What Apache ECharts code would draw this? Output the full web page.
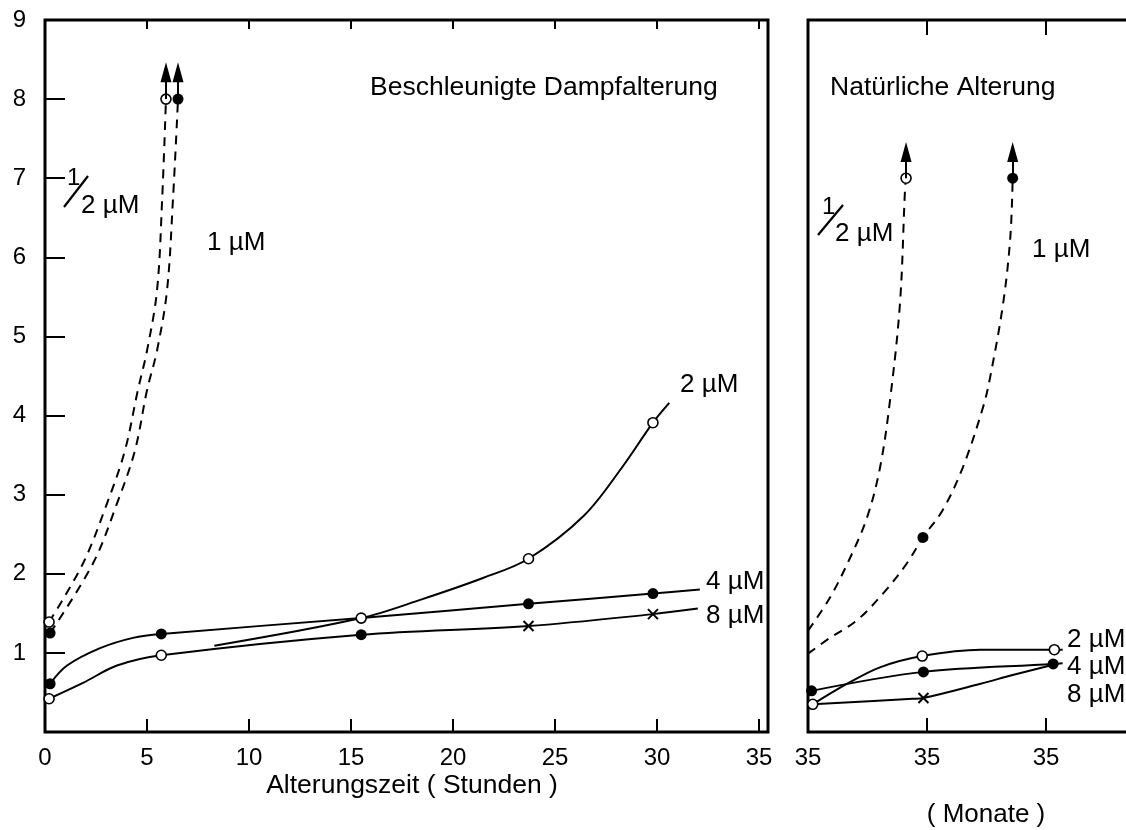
<!DOCTYPE html>
<html><head><meta charset="utf-8">
<script src="https://cdn.jsdelivr.net/npm/echarts@6/dist/echarts.min.js"></script>
<style>html,body{margin:0;padding:0;background:#fff}#c{width:1126px;height:830px}</style>
</head><body><div id="c"></div>
<script>
// ---------- DATA ----------
// Left panel: accelerated steam ageing (hours)
const hoursTicks = [0, 5, 10, 15, 20, 25, 30, 35];
const yTicks = [1, 2, 3, 4, 5, 6, 7, 8, 9];

const accHalfX = [0.2, 1.86, 3.04, 3.92, 4.55, 5.0, 5.49, 5.74, 5.93];
const accHalfY = [1.39, 2.13, 2.89, 3.56, 4.32, 4.82, 5.58, 6.72, 8.0];
const accHalfM = ['o', '', '', '', '', '', '', '', 'o'];

const accOneX = [0.25, 2.35, 3.53, 4.41, 5.0, 5.49, 5.98, 6.27, 6.52];
const accOneY = [1.25, 2.13, 2.89, 3.56, 4.32, 4.82, 5.58, 6.72, 8.0];
const accOneM = ['f', '', '', '', '', '', '', '', 'f'];

const acc2X = [8.3, 15.5, 18.5, 21.5, 23.7, 26.4, 28.3, 29.8, 30.6];
const acc2Y = [1.09, 1.44, 1.68, 1.95, 2.19, 2.73, 3.35, 3.91, 4.16];
const acc2M = ['', 'o', '', '', 'o', '', '', 'o', ''];

const acc4X = [0.25, 1.08, 2.70, 4.31, 5.7, 15.5, 23.7, 29.8, 32.1];
const acc4Y = [0.61, 0.84, 1.06, 1.19, 1.24, 1.44, 1.62, 1.75, 1.80];
const acc4M = ['f', '', '', '', 'f', '', 'f', 'f', ''];

const acc8X = [0.2, 1.86, 3.53, 5.7, 15.5, 23.7, 29.8, 32.0];
const acc8Y = [0.42, 0.62, 0.84, 0.97, 1.23, 1.34, 1.49, 1.56];
const acc8M = ['o', '', '', 'o', 'f', 'x', 'x', ''];

// arrows [x, yFrom, yTo]
const accHalfArrow = [5.93, 8.0, 8.34];
const accOneArrow = [6.52, 8.0, 8.34];

// Right panel: natural ageing (months)
const monthTickPos = [0, 1, 2];
const monthTickLabels = ['35', '35', '35'];

const natHalfX = [0, 0.185, 0.353, 0.496, 0.605, 0.689, 0.773, 0.815, 0.824];
const natHalfY = [1.28, 1.70, 2.20, 2.71, 3.34, 4.19, 5.42, 6.85, 7.0];
const natHalfM = ['', '', '', '', '', '', '', '', 'o'];

const natOneX = [0, 0.185, 0.41, 0.63, 0.83, 0.966, 1.13, 1.30, 1.47, 1.53, 1.64, 1.70, 1.72];
const natOneY = [0.99, 1.19, 1.41, 1.75, 2.13, 2.46, 2.80, 3.34, 4.10, 4.48, 5.42, 6.25, 7.0];
const natOneM = ['', '', '', '', '', 'f', '', '', '', '', '', '', 'f'];

const nat2X = [0.04, 0.33, 0.61, 0.96, 1.45, 2.07, 2.14];
const nat2Y = [0.35, 0.61, 0.82, 0.96, 1.04, 1.04, 1.04];
const nat2M = ['o', '', '', 'o', '', 'o', ''];

const nat4X = [0.03, 0.97, 2.06, 2.14];
const nat4Y = [0.52, 0.76, 0.86, 0.87];
const nat4M = ['f', 'f', 'f', ''];

const nat8X = [0.04, 0.88, 0.97, 1.45, 1.72, 2.06];
const nat8Y = [0.35, 0.42, 0.43, 0.61, 0.72, 0.85];
const nat8M = ['', '', 'x', '', '', ''];

const natHalfArrow = [0.824, 7.0, 7.33];
const natOneArrow = [1.72, 7.0, 7.33];

// ---------- CHART ----------
const FONT = '"Liberation Sans", Arial, Helvetica, sans-serif';

function pts(xs, ys, marks) {
  return xs.map((x, i) => {
    const m = marks[i];
    const item = { value: [x, ys[i]] };
    if (m === 'o') {
      item.symbol = 'circle'; item.symbolSize = 10;
      item.itemStyle = { color: '#fff', borderColor: '#000', borderWidth: 1.6 };
    } else if (m === 'f') {
      item.symbol = 'circle'; item.symbolSize = 11;
      item.itemStyle = { color: '#000', borderColor: '#000', borderWidth: 0 };
    } else if (m === 'x') {
      item.symbol = 'path://M0,0L10,10M10,0L0,10'; item.symbolSize = 10;
      item.itemStyle = { color: '#000', borderColor: '#000', borderWidth: 2 };
    } else {
      item.symbol = 'none';
    }
    return item;
  });
}

function arrow(a) {
  return {
    silent: true, animation: false,
    symbol: ['none', 'triangle'], symbolSize: [11, 20],
    itemStyle: { color: '#000' },
    lineStyle: { color: '#000', width: 2, type: 'solid' },
    label: { show: false },
    emphasis: { disabled: true },
    data: [[{ coord: [a[0], a[1]] }, { coord: [a[0], a[2]] }]]
  };
}

function series(name, xs, ys, marks, gi, dashed, z, arr) {
  const s = {
    name, type: 'line', xAxisIndex: gi === 0 ? 0 : 2, yAxisIndex: gi,
    data: pts(xs, ys, marks), symbol: 'circle', showSymbol: true,
    smooth: 0.35, z: z || 2, silent: true, animation: false,
    lineStyle: { color: '#000', width: 2, type: dashed ? [9, 7] : 'solid' },
    itemStyle: { color: '#000' }
  };
  if (arr) s.markLine = arrow(arr);
  return s;
}

const txt = (x, y, t, size, align) => ({
  type: 'text', x, y, silent: true,
  style: { text: t, fill: '#000', font: (size || 26) + 'px ' + FONT, textAlign: align || 'left', textVerticalAlign: 'middle' }
});
const slash = (x1, y1, x2, y2) => ({
  type: 'line', silent: true, shape: { x1, y1, x2, y2 }, style: { stroke: '#000', lineWidth: 2.2 }
});

const axisLbl = { color: '#000', fontSize: 24, fontFamily: FONT };

const option = {
  backgroundColor: '#fff',
  animation: false,
  grid: [
    { left: 45, top: 20, width: 723, height: 712, show: true, borderColor: '#000', borderWidth: 3,
      backgroundColor: 'transparent', outerBoundsMode: 'none', containLabel: false },
    { left: 808, top: 20, width: 357, height: 712, show: true, borderColor: '#000', borderWidth: 3,
      backgroundColor: 'transparent', outerBoundsMode: 'none', containLabel: false }
  ],
  xAxis: [
    { gridIndex: 0, type: 'value', min: 0, max: 35.44, position: 'bottom',
      axisLine: { show: false }, splitLine: { show: false },
      axisTick: { inside: true, length: 13, lineStyle: { color: '#000', width: 2 }, customValues: hoursTicks.slice(1) },
      axisLabel: Object.assign({ margin: 14, customValues: hoursTicks }, axisLbl) },
    { gridIndex: 0, type: 'value', min: 0, max: 35.44, position: 'top',
      axisLine: { show: false }, splitLine: { show: false },
      axisTick: { inside: true, length: 9, lineStyle: { color: '#000', width: 2 }, customValues: hoursTicks.slice(1) },
      axisLabel: { show: false } },
    { gridIndex: 1, type: 'value', min: 0, max: 3, position: 'bottom',
      axisLine: { show: false }, splitLine: { show: false },
      axisTick: { inside: true, length: 14, lineStyle: { color: '#000', width: 2 }, customValues: monthTickPos.slice(1) },
      axisLabel: Object.assign({ margin: 14, customValues: monthTickPos,
        formatter: (v) => monthTickLabels[monthTickPos.indexOf(v)] || '' }, axisLbl) },
    { gridIndex: 1, type: 'value', min: 0, max: 3, position: 'top',
      axisLine: { show: false }, splitLine: { show: false },
      axisTick: { inside: true, length: 15, lineStyle: { color: '#000', width: 2 }, customValues: monthTickPos.slice(1) },
      axisLabel: { show: false } }
  ],
  yAxis: [
    { gridIndex: 0, type: 'value', min: 0, max: 9,
      axisLine: { show: false }, splitLine: { show: false },
      axisTick: { inside: true, length: 20, lineStyle: { color: '#000', width: 2 }, customValues: yTicks.slice(0, -1) },
      axisLabel: Object.assign({ margin: 19, customValues: yTicks }, axisLbl) },
    { gridIndex: 1, type: 'value', min: 0, max: 9,
      axisLine: { show: false }, splitLine: { show: false },
      axisTick: { show: false }, axisLabel: { show: false } }
  ],
  series: [
    series('acc ½ µM', accHalfX, accHalfY, accHalfM, 0, true, 2, accHalfArrow),
    series('acc 1 µM', accOneX, accOneY, accOneM, 0, true, 2, accOneArrow),
    series('acc 8 µM', acc8X, acc8Y, acc8M, 0, false, 2),
    series('acc 4 µM', acc4X, acc4Y, acc4M, 0, false, 3),
    series('acc 2 µM', acc2X, acc2Y, acc2M, 0, false, 4),
    series('nat ½ µM', natHalfX, natHalfY, natHalfM, 1, true, 2, natHalfArrow),
    series('nat 1 µM', natOneX, natOneY, natOneM, 1, true, 2, natOneArrow),
    series('nat 8 µM', nat8X, nat8Y, nat8M, 1, false, 2),
    series('nat 4 µM', nat4X, nat4Y, nat4M, 1, false, 3),
    series('nat 2 µM', nat2X, nat2Y, nat2M, 1, false, 4)
  ],
  graphic: [
    txt(370, 88, 'Beschleunigte Dampfalterung', 26.5),
    txt(830, 88, 'Natürliche Alterung', 26.5),
    txt(67, 178, '1', 24), slash(64, 207, 88, 176), txt(81, 206, '2 µM', 26),
    txt(207, 243, '1 µM', 26),
    txt(680, 385, '2 µM', 26),
    txt(706, 582, '4 µM', 26),
    txt(706, 616, '8 µM', 26),
    txt(822, 207, '1', 24), slash(818, 235, 843, 205), txt(835, 234, '2 µM', 26),
    txt(1032, 250, '1 µM', 26),
    txt(1067, 640, '2 µM', 26),
    txt(1067, 667, '4 µM', 26),
    txt(1067, 695, '8 µM', 26),
    txt(412, 786, 'Alterungszeit ( Stunden )', 26.5, 'center'),
    txt(986, 815, '( Monate )', 26, 'center')
  ]
};

const chart = echarts.init(document.getElementById('c'), null, { renderer: 'canvas' });
chart.setOption(option);
</script></body></html>
